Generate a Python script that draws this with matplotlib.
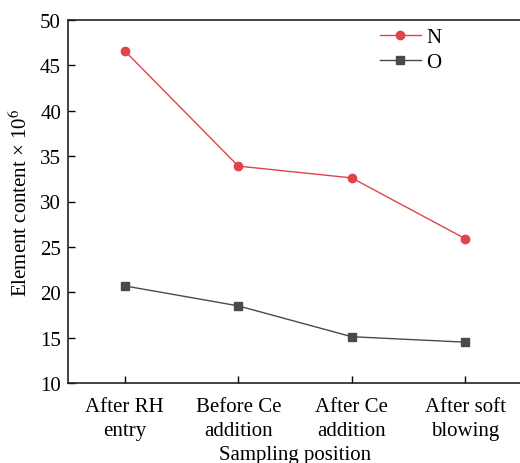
import matplotlib
matplotlib.use('Agg')
import matplotlib.pyplot as plt

plt.rcParams['font.family'] = ['Liberation Serif', 'DejaVu Serif']
plt.rcParams['mathtext.fontset'] = 'stix'

positions = ['After RH\nentry', 'Before Ce\naddition', 'After Ce\naddition', 'After soft\nblowing']
n_vals = [46.6, 33.9, 32.6, 25.9]
o_vals = [20.7, 18.5, 15.1, 14.5]
yticks = [10, 15, 20, 25, 30, 35, 40, 45, 50]

fig = plt.figure(figsize=(5.2, 4.64), dpi=100)
ax = fig.add_axes([68/520, 80/464, 454/520, 363/464])

x = list(range(len(positions)))
ax.plot(x, n_vals, color='#e0434a', marker='o', markersize=6, linewidth=1.0, label='N')
ax.plot(x, o_vals, color='#4a4a4a', marker='s', markersize=5.5, linewidth=1.0, label='O')

ax.set_xlim(-0.5, 3.5)
ax.set_ylim(10, 50)
ax.set_yticks(yticks)
ax.set_xticks(x)
ax.set_xticklabels(positions, fontsize=15, linespacing=1.4)
ax.tick_params(axis='both', direction='in', length=5, width=1, labelsize=15, pad=5)
ax.tick_params(axis='x', pad=10)
for s in ax.spines.values():
    s.set_linewidth(1.2)
    s.set_color('#222222')

ax.set_ylabel('Element content × 10$^{6}$', fontsize=15, labelpad=6)
ax.set_xlabel('Sampling position', fontsize=15, labelpad=3)

ax.legend(loc='upper left', bbox_to_anchor=(0.645, 1.03), frameon=False, fontsize=15,
          handlelength=2.0, handletextpad=0.25, labelspacing=0.25)

fig.savefig('out.png', dpi=100)
